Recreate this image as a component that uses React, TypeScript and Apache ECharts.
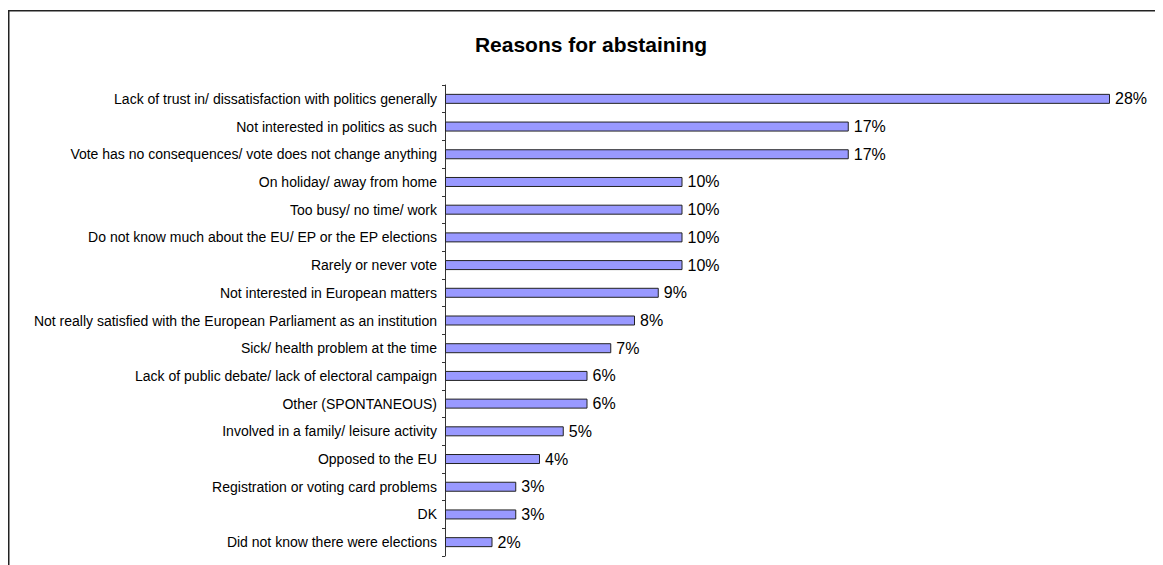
import React, { useEffect, useRef } from "react";
import * as echarts from "echarts";

const categories = [
  "Lack of trust in/ dissatisfaction with politics generally",
  "Not interested in politics as such",
  "Vote has no consequences/ vote does not change anything",
  "On holiday/ away from home",
  "Too busy/ no time/ work",
  "Do not know much about the EU/ EP or the EP elections",
  "Rarely or never vote",
  "Not interested in European matters",
  "Not really satisfied with the European Parliament as an institution",
  "Sick/ health problem at the time",
  "Lack of public debate/ lack of electoral campaign",
  "Other (SPONTANEOUS)",
  "Involved in a family/ leisure activity",
  "Opposed to the EU",
  "Registration or voting card problems",
  "DK",
  "Did not know there were elections",
];

const values = [28, 17, 17, 10, 10, 10, 10, 9, 8, 7, 6, 6, 5, 4, 3, 3, 2];

const title = "Reasons for abstaining";

export default function App() {
  const ref = useRef<HTMLDivElement>(null);
  useEffect(() => {
    if (!ref.current) return;
    const chart = echarts.init(ref.current, null, { renderer: "svg" });
    chart.setOption({
      animation: false,
      textStyle: { fontFamily: "Liberation Sans, Arial, sans-serif" },
      title: {
        text: title,
        left: 578,
        top: 21,
        textAlign: "center",
        textStyle: {
          fontFamily: "Liberation Sans, Arial, sans-serif",
          fontSize: 21,
          fontWeight: "bold",
          color: "#000",
        },
      },
      graphic: [
        {
          type: "rect",
          shape: { x: 0.75, y: 2.75, width: 3000, height: 3000 },
          style: { fill: "none", stroke: "#222", lineWidth: 1.5 },
          silent: true,
        },
      ],
      grid: { left: 437, top: 77, right: 5.5, bottom: 9, containLabel: false },
      xAxis: {
        type: "value",
        min: 0,
        max: 30,
        show: false,
      },
      yAxis: {
        type: "category",
        inverse: true,
        data: categories,
        axisLine: { show: true, lineStyle: { color: "#333", width: 1 } },
        axisTick: { show: true, length: 3, inside: false, lineStyle: { color: "#333" } },
        axisLabel: {
          color: "#000",
          fontSize: 14,
          margin: 8,
          fontFamily: "Liberation Sans, Arial, sans-serif",
        },
        splitLine: { show: false },
      },
      series: [
        {
          type: "bar",
          data: values,
          barWidth: 10,
          itemStyle: { color: "#9999FF", borderColor: "#222", borderWidth: 1 },
          label: {
            show: true,
            position: "right",
            distance: 5,
            formatter: "{c}%",
            color: "#000",
            fontSize: 16,
            fontFamily: "Liberation Sans, Arial, sans-serif",
          },
        },
      ],
    });
    return () => chart.dispose();
  }, []);
  return <div ref={ref} style={{ width: 1155, height: 557 }} />;
}
